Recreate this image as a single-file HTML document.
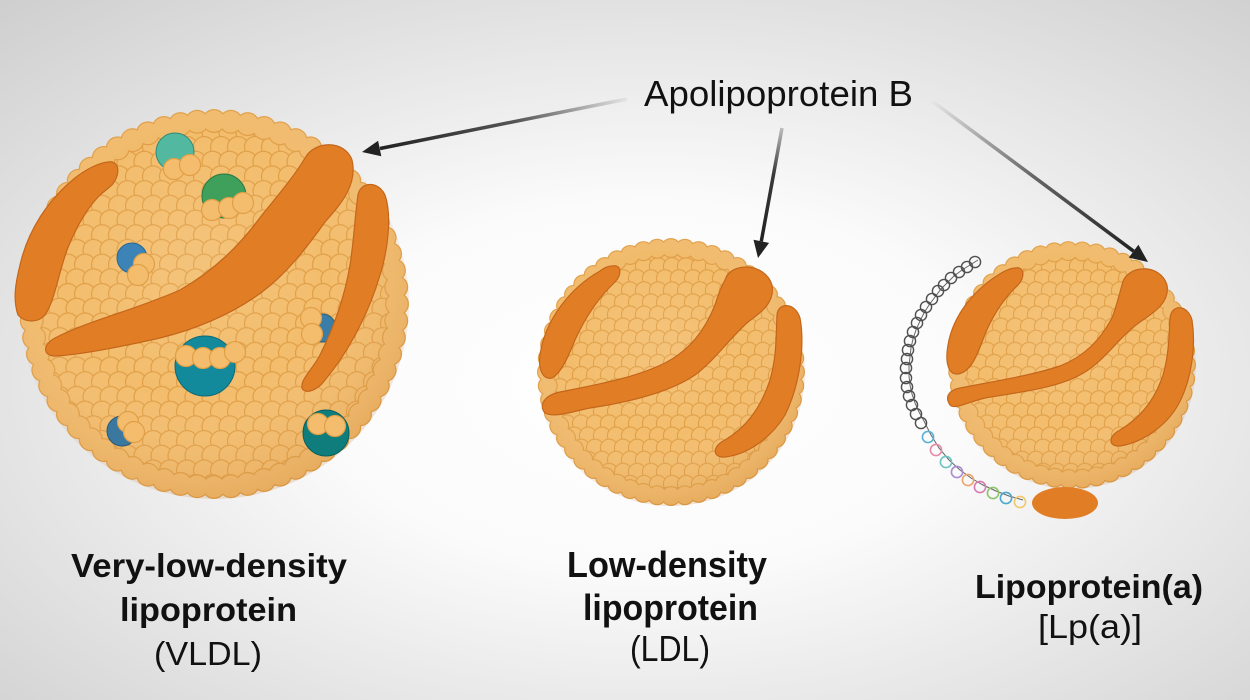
<!DOCTYPE html>
<html>
<head>
<meta charset="utf-8">
<style>
html,body{margin:0;padding:0;width:1250px;height:700px;overflow:hidden;background:#fff}
svg{display:block}
</style>
</head>
<body>
<svg width="1250" height="700" viewBox="0 0 1250 700" xmlns="http://www.w3.org/2000/svg">
<defs>
  <radialGradient id="bg" cx="0.52" cy="0.55" r="0.75">
    <stop offset="0" stop-color="#ffffff"/>
    <stop offset="0.35" stop-color="#fbfbfb"/>
    <stop offset="1" stop-color="#cfcfcf"/>
  </radialGradient>
  <pattern id="pv" patternUnits="userSpaceOnUse" width="17" height="29.4">
    <rect width="17" height="29.4" fill="#e8a852"/>
    <g fill="#f3bd6d" stroke="#e09f46" stroke-width="1.2">
      <circle cx="0" cy="0" r="10.5"/><circle cx="17" cy="0" r="10.5"/>
      <circle cx="-8.5" cy="14.7" r="10.5"/><circle cx="8.5" cy="14.7" r="10.5"/><circle cx="25.5" cy="14.7" r="10.5"/>
      <circle cx="0" cy="29.4" r="10.5"/><circle cx="17" cy="29.4" r="10.5"/>
    </g>
  </pattern>
  <pattern id="ps" patternUnits="userSpaceOnUse" width="14" height="24.2">
    <rect width="14" height="24.2" fill="#e8a852"/>
    <g fill="#f3bd6d" stroke="#e09f46" stroke-width="1.1">
      <circle cx="0" cy="0" r="8.6"/><circle cx="14" cy="0" r="8.6"/>
      <circle cx="-7" cy="12.1" r="8.6"/><circle cx="7" cy="12.1" r="8.6"/><circle cx="21" cy="12.1" r="8.6"/>
      <circle cx="0" cy="24.2" r="8.6"/><circle cx="14" cy="24.2" r="8.6"/>
    </g>
  </pattern>
  <radialGradient id="sh" cx="0.45" cy="0.4" r="0.62">
    <stop offset="0" stop-color="#ffffff" stop-opacity="0.10"/>
    <stop offset="0.55" stop-color="#ffffff" stop-opacity="0"/>
    <stop offset="1" stop-color="#b8661a" stop-opacity="0.20"/>
  </radialGradient>
  <clipPath id="cv"><circle cx="214" cy="304" r="184"/></clipPath>
  <clipPath id="cl"><circle cx="671" cy="372" r="124"/></clipPath>
  <clipPath id="ca"><circle cx="1072" cy="365" r="114"/></clipPath>
  <linearGradient id="g1" gradientUnits="userSpaceOnUse" x1="627" y1="99" x2="380" y2="148">
    <stop offset="0" stop-color="#e4e4e4"/><stop offset="0.45" stop-color="#555"/><stop offset="1" stop-color="#222"/>
  </linearGradient>
  <linearGradient id="g2" gradientUnits="userSpaceOnUse" x1="782" y1="128" x2="761" y2="241">
    <stop offset="0" stop-color="#bdbdbd"/><stop offset="0.4" stop-color="#3a3a3a"/><stop offset="1" stop-color="#222"/>
  </linearGradient>
  <linearGradient id="g3" gradientUnits="userSpaceOnUse" x1="932" y1="101" x2="1134" y2="251">
    <stop offset="0" stop-color="#e6e6e6"/><stop offset="0.5" stop-color="#666"/><stop offset="1" stop-color="#222"/>
  </linearGradient>
</defs>

<rect width="1250" height="700" fill="url(#bg)"/>

<!-- ===== VLDL sphere ===== -->
<g>
  <circle cx="214" cy="304" r="184" fill="#e8a852"/>
  <rect x="20" y="110" width="390" height="390" fill="url(#pv)" clip-path="url(#cv)"/>
  <circle cx="214" cy="304" r="183" fill="none" stroke="#e09f46" stroke-width="24" stroke-linecap="round" pathLength="68" stroke-dasharray="0 1"/>
  <circle cx="214" cy="304" r="183" fill="none" stroke="#f1bb6c" stroke-width="21.5" stroke-linecap="round" pathLength="68" stroke-dasharray="0 1"/>
  <circle cx="214" cy="304" r="195" fill="url(#sh)"/>
  <!-- blobs -->
  <circle cx="175" cy="152" r="19" fill="#52b8a0" stroke="#2f8a78" stroke-width="1"/>
  <circle cx="224" cy="196" r="22" fill="#3fa05c" stroke="#2a7a44" stroke-width="1"/>
  <circle cx="132" cy="258" r="15" fill="#3c84b8" stroke="#2a6690" stroke-width="1"/>
  <circle cx="322" cy="328" r="14" fill="#3a7ea8" stroke="#2a6080" stroke-width="1"/>
  <circle cx="205" cy="366" r="30" fill="#128a9c" stroke="#0c6a78" stroke-width="1"/>
  <circle cx="122" cy="431" r="15" fill="#3a78a0" stroke="#2a5a7a" stroke-width="1"/>
  <circle cx="326" cy="433" r="23" fill="#0f7d7c" stroke="#0a5f5e" stroke-width="1"/>
  <g fill="#f3bd6d" stroke="#e09f46" stroke-width="1.2">
    <circle cx="174" cy="169" r="10.5"/><circle cx="190" cy="165" r="10.5"/>
    <circle cx="212" cy="210" r="10.5"/><circle cx="229" cy="208" r="10.5"/><circle cx="243" cy="203" r="10.5"/>
    <circle cx="144" cy="264" r="10.5"/><circle cx="138" cy="275" r="10.5"/>
    <circle cx="311" cy="318" r="10.5"/><circle cx="312" cy="334" r="10.5"/>
    <circle cx="186" cy="356" r="10.5"/><circle cx="203" cy="358" r="10.5"/><circle cx="220" cy="358" r="10.5"/><circle cx="235" cy="352" r="10.5"/>
    <circle cx="128" cy="422" r="10.5"/><circle cx="134" cy="432" r="10.5"/>
    <circle cx="318" cy="424" r="10.5"/><circle cx="335" cy="426" r="10.5"/>
  </g>
  <!-- bands -->
  <g fill="#e17e25" stroke="#c4661a" stroke-width="1.2">
    <path d="M108,162 C118,160 122,172 112,185 L100,195 C85,210 75,230 67,250 C58,275 55,300 45,315 C38,323 25,323 18,315 C13,300 15,285 20,265 C28,230 48,200 75,178 C85,170 98,163 108,162 Z"/>
    <path d="M305,158 C315,140 345,140 352,160 C358,185 340,205 325,222 C305,250 285,275 262,292 C235,312 200,328 160,338 C120,347 80,355 55,356 C43,356 42,345 55,338 C90,320 135,310 180,290 C215,270 240,245 262,215 C280,193 295,175 305,158 Z"/>
    <path d="M358,195 C360,182 378,180 385,195 C392,215 388,250 380,275 C370,310 350,350 325,380 C318,390 305,395 302,388 C300,380 312,370 320,355 C335,325 345,295 350,265 C354,240 355,215 358,195 Z"/>
  </g>
</g>

<!-- ===== LDL sphere ===== -->
<g>
  <circle cx="671" cy="372" r="124" fill="#e8a852"/>
  <rect x="540" y="240" width="265" height="265" fill="url(#ps)" clip-path="url(#cl)"/>
  <circle cx="671" cy="372" r="124" fill="none" stroke="#e09f46" stroke-width="20" stroke-linecap="round" pathLength="56" stroke-dasharray="0 1"/>
  <circle cx="671" cy="372" r="124" fill="none" stroke="#f1bb6c" stroke-width="17.6" stroke-linecap="round" pathLength="56" stroke-dasharray="0 1"/>
  <circle cx="671" cy="372" r="134" fill="url(#sh)"/>
  <g fill="#e17e25" stroke="#c4661a" stroke-width="1.2">
    <path d="M612,266 C622,264 622,275 615,282 C598,298 585,318 575,340 C568,357 562,372 552,378 C543,380 538,370 540,355 C545,320 570,288 600,271 C604,268 608,266 612,266 Z"/>
    <path d="M725,280 C730,262 765,262 772,285 C775,302 762,312 748,322 C730,338 715,360 695,375 C670,392 630,402 590,408 C570,412 555,418 545,413 C538,405 545,395 560,392 C595,385 635,378 665,363 C690,350 705,330 715,305 C718,295 721,287 725,280 Z"/>
    <path d="M777,315 C778,302 795,302 800,318 C805,345 800,385 785,415 C770,440 745,455 725,457 C712,458 712,446 725,440 C745,428 760,410 770,380 C777,355 776,335 777,315 Z"/>
  </g>
</g>

<!-- ===== Lp(a) sphere ===== -->
<g>
  <!-- apo(a) chain -->
  <path d="M978,260 L970,265 L962,270 L954,276 L947,283 L941,289 L935,297 L929,305 L924,313 L920,321 L916,330 L913,339 L911,348 L910,357 L909,366 L909,376 L910,385 L912,394 L915,403 L919,412 L924,421 L931,435 L939,448 L949,460 L960,470 L971,478 L983,485 L996,491 L1009,496 L1023,500" fill="none" stroke="#666" stroke-width="1"/>
  <g fill="none" stroke="#505050" stroke-width="1.4">
    <circle cx="975" cy="262" r="5.6"/><circle cx="967" cy="267" r="5.6"/><circle cx="959" cy="272" r="5.6"/>
    <circle cx="951" cy="278" r="5.6"/><circle cx="944" cy="285" r="5.6"/><circle cx="938" cy="291" r="5.6"/>
    <circle cx="932" cy="299" r="5.6"/><circle cx="926" cy="307" r="5.6"/><circle cx="921" cy="315" r="5.6"/>
    <circle cx="917" cy="323" r="5.6"/><circle cx="913" cy="332" r="5.6"/><circle cx="910" cy="341" r="5.6"/>
    <circle cx="908" cy="350" r="5.6"/><circle cx="907" cy="359" r="5.6"/><circle cx="906" cy="368" r="5.6"/>
    <circle cx="906" cy="378" r="5.6"/><circle cx="907" cy="387" r="5.6"/><circle cx="909" cy="396" r="5.6"/>
    <circle cx="912" cy="405" r="5.6"/><circle cx="916" cy="414" r="5.6"/><circle cx="921" cy="423" r="5.6"/>
  </g>
  <g fill="none" stroke-width="1.6">
    <circle cx="928" cy="437" r="5.6" stroke="#5ab0d8"/>
    <circle cx="936" cy="450" r="5.6" stroke="#e68aa8"/>
    <circle cx="946" cy="462" r="5.6" stroke="#6cc4c4"/>
    <circle cx="957" cy="472" r="5.6" stroke="#a98bd2"/>
    <circle cx="968" cy="480" r="5.6" stroke="#eba56a"/>
    <circle cx="980" cy="487" r="5.6" stroke="#d97bb0"/>
    <circle cx="993" cy="493" r="5.6" stroke="#8fc46e"/>
    <circle cx="1006" cy="498" r="5.6" stroke="#4aa8cc"/>
    <circle cx="1020" cy="502" r="5.6" stroke="#f2c86a"/>
  </g>
  <circle cx="1072" cy="365" r="114" fill="#e8a852"/>
  <rect x="945" y="240" width="255" height="250" fill="url(#ps)" clip-path="url(#ca)"/>
  <circle cx="1072" cy="365" r="114" fill="none" stroke="#e09f46" stroke-width="20" stroke-linecap="round" pathLength="51" stroke-dasharray="0 1"/>
  <circle cx="1072" cy="365" r="114" fill="none" stroke="#f1bb6c" stroke-width="17.6" stroke-linecap="round" pathLength="51" stroke-dasharray="0 1"/>
  <circle cx="1072" cy="365" r="124" fill="url(#sh)"/>
  <ellipse cx="1065" cy="503" rx="33" ry="16" fill="#e17e25"/>
  <g fill="#e17e25" stroke="#c4661a" stroke-width="1.2">
    <path d="M1015,268 C1025,266 1025,278 1018,285 C1002,300 990,320 982,342 C976,358 970,372 958,374 C948,375 945,362 948,345 C953,315 975,288 1003,272 C1007,270 1011,268 1015,268 Z"/>
    <path d="M1122,285 C1125,265 1160,262 1167,285 C1170,302 1155,312 1140,322 C1120,336 1105,360 1085,372 C1060,388 1020,392 985,398 C968,402 955,410 950,405 C944,396 950,390 960,388 C990,382 1030,376 1060,366 C1085,356 1100,340 1112,318 C1117,305 1119,295 1122,285 Z"/>
    <path d="M1170,318 C1172,303 1188,305 1192,320 C1196,345 1192,380 1178,405 C1165,428 1140,443 1120,446 C1108,447 1108,436 1120,430 C1140,418 1155,400 1163,375 C1169,355 1169,335 1170,318 Z"/>
  </g>
</g>

<!-- ===== Arrows ===== -->
<line x1="627" y1="99" x2="380" y2="148.5" stroke="url(#g1)" stroke-width="3.5"/>
<polygon points="362,152 378.1,140.7 381.3,156.3" fill="#222"/>
<line x1="782" y1="128" x2="761.3" y2="241.3" stroke="url(#g2)" stroke-width="3.5"/>
<polygon points="758,258 753.5,239.7 769.1,242.9" fill="#222"/>
<line x1="932" y1="101" x2="1133.6" y2="251.2" stroke="url(#g3)" stroke-width="3.5"/>
<polygon points="1148,262 1128.8,257.6 1138.4,244.8" fill="#222"/>

<!-- ===== Text ===== -->
<g font-family="'Liberation Sans', Arial, sans-serif" fill="#111">
  <text x="644" y="106" font-size="36" textLength="269" lengthAdjust="spacingAndGlyphs">Apolipoprotein B</text>

  <text x="71" y="577" font-size="33" font-weight="bold" textLength="276" lengthAdjust="spacingAndGlyphs">Very-low-density</text>
  <text x="120" y="621" font-size="33" font-weight="bold" textLength="177" lengthAdjust="spacingAndGlyphs">lipoprotein</text>
  <text x="154" y="665" font-size="33" textLength="108" lengthAdjust="spacingAndGlyphs">(VLDL)</text>

  <text x="567" y="577" font-size="36" font-weight="bold" textLength="200" lengthAdjust="spacingAndGlyphs">Low-density</text>
  <text x="583" y="620" font-size="36" font-weight="bold" textLength="175" lengthAdjust="spacingAndGlyphs">lipoprotein</text>
  <text x="630" y="661" font-size="36" textLength="80" lengthAdjust="spacingAndGlyphs">(LDL)</text>

  <text x="975" y="598" font-size="33" font-weight="bold" textLength="228" lengthAdjust="spacingAndGlyphs">Lipoprotein(a)</text>
  <text x="1038" y="638" font-size="33" textLength="104" lengthAdjust="spacingAndGlyphs">[Lp(a)]</text>
</g>
</svg>
</body>
</html>
